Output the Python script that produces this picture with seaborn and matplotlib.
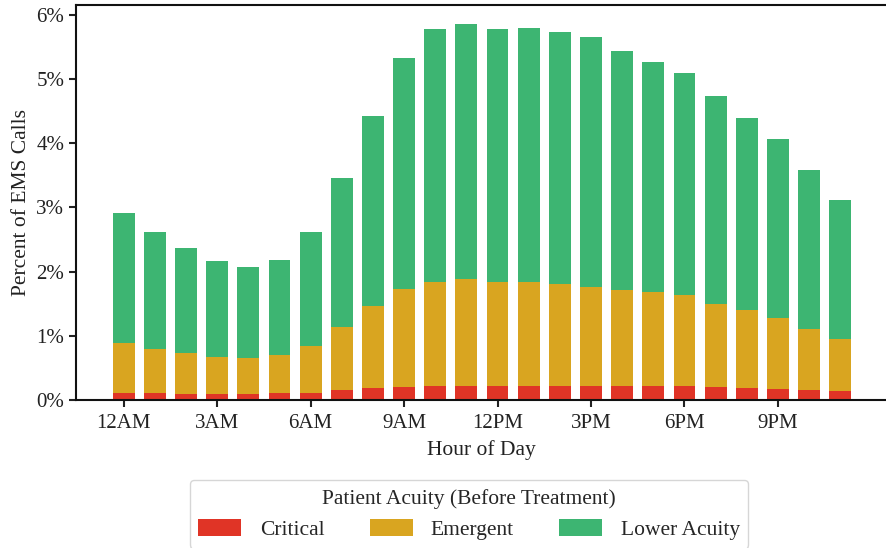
import matplotlib
matplotlib.use("Agg")
import matplotlib.pyplot as plt
from matplotlib.patches import Patch
from matplotlib.ticker import FuncFormatter
import numpy as np
import pandas as pd
import seaborn as sns

# Share of EMS calls (%) by hour of day, split by patient acuity before treatment
hours = list(range(24))
critical = [0.11, 0.11, 0.09, 0.09, 0.09, 0.11, 0.11, 0.155, 0.19, 0.20, 0.22, 0.22,
            0.22, 0.22, 0.22, 0.22, 0.22, 0.22, 0.22, 0.20, 0.19, 0.17, 0.155, 0.14]
emergent = [0.78, 0.68, 0.64, 0.58, 0.56, 0.59, 0.73, 0.98, 1.27, 1.53, 1.62, 1.66,
            1.62, 1.62, 1.58, 1.54, 1.49, 1.46, 1.41, 1.29, 1.21, 1.10, 0.95, 0.81]
lower_acuity = [2.02, 1.82, 1.63, 1.49, 1.42, 1.48, 1.77, 2.32, 2.96, 3.59, 3.94, 3.98,
                3.94, 3.96, 3.94, 3.90, 3.72, 3.58, 3.46, 3.25, 3.00, 2.80, 2.48, 2.16]

tick_hours = [0, 3, 6, 9, 12, 15, 18, 21]
tick_labels = ["12AM", "3AM", "6AM", "9AM", "12PM", "3PM", "6PM", "9PM"]

categories = ["Critical", "Emergent", "Lower Acuity"]
colors = ["#e03426", "#d9a520", "#3db572"]

df = pd.DataFrame({
    "hour": hours,
    "Critical": critical,
    "Emergent": emergent,
    "Lower Acuity": lower_acuity,
})
# Stack the layers: each bar is drawn at its cumulative height
df["top_critical"] = df["Critical"]
df["top_emergent"] = df["top_critical"] + df["Emergent"]
df["top_lower"] = df["top_emergent"] + df["Lower Acuity"]

sns.set_theme(style="ticks")
plt.rcParams["font.family"] = ["Liberation Serif", "DejaVu Serif"]
plt.rcParams["axes.linewidth"] = 1.5

fig = plt.figure(figsize=(8.87, 5.48), dpi=100)
ax = fig.add_axes([76 / 887, 1 - 400 / 548, 1 - 76 / 887, (400 - 5) / 548])

for col, color in zip(["top_lower", "top_emergent", "top_critical"], colors[::-1]):
    sns.barplot(data=df, x="hour", y=col, color=color, width=0.7,
                saturation=1, ax=ax, edgecolor="none", linewidth=0)

ax.set_xlim(-1.53, 24.5)
ax.set_ylim(0, df["top_lower"].max() * 1.05)
ax.set_yticks(range(7))
ax.yaxis.set_major_formatter(FuncFormatter(lambda v, _: f"{v:.0f}%"))
ax.set_xticks(tick_hours)
ax.set_xticklabels(tick_labels)

ax.set_xlabel("Hour of Day", fontsize=15.5, color="#222222", labelpad=5)
ax.set_ylabel("Percent of EMS Calls", fontsize=15.5, color="#222222", labelpad=4)
ax.tick_params(axis="both", labelsize=15, colors="#222222", length=5, width=1.5,
               direction="out")
ax.tick_params(axis="x", pad=5)
for side in ["left", "bottom", "top"]:
    ax.spines[side].set_color("#111111")
    ax.spines[side].set_linewidth(1.5)
ax.spines["right"].set_visible(False)

handles = [Patch(facecolor=c, edgecolor="none") for c in colors]
leg = ax.legend(handles, categories, title="Patient Acuity (Before Treatment)",
                loc="upper center", bbox_to_anchor=(0.4846, -0.2025), ncol=3,
                fontsize=15.5, title_fontsize=15.5, frameon=True, fancybox=True,
                borderaxespad=0, handlelength=2.0, handleheight=0.8,
                handletextpad=0.85, columnspacing=2.1)
leg.get_frame().set_edgecolor("#cccccc")
leg.get_frame().set_linewidth(1.0)

fig.savefig("out.png", dpi=100)
